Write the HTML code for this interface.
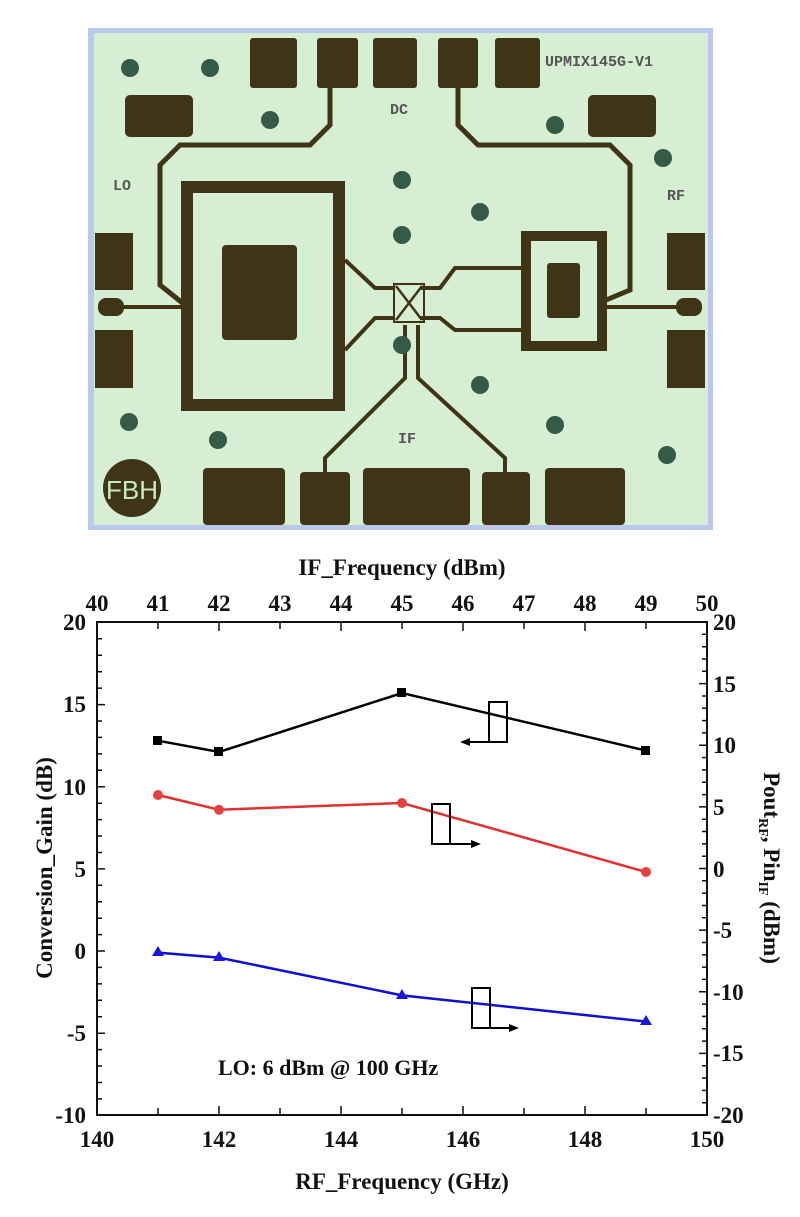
<!DOCTYPE html>
<html><head><meta charset="utf-8"><style>
html,body{margin:0;padding:0;background:#fff}
svg{display:block}
.t{font-family:"Liberation Serif",serif;font-weight:bold;font-size:23px;fill:#111}
.c{font-family:"Liberation Mono",monospace;font-weight:bold;font-size:15px;fill:#555}
</style></head><body>
<svg width="800" height="1217" viewBox="0 0 800 1217" xmlns="http://www.w3.org/2000/svg">
<rect width="800" height="1217" fill="#fff"/>
<!-- chip -->
<rect x="88" y="28" width="625" height="502" fill="#b9c8ec"/>
<rect x="94" y="33" width="614" height="492" fill="#d6efd2"/>
<g fill="#3f3516">
<rect x="250" y="38" width="47" height="50" rx="3"/>
<rect x="317" y="38" width="41" height="50" rx="3"/>
<rect x="373" y="38" width="44" height="50" rx="3"/>
<rect x="438" y="38" width="40" height="50" rx="3"/>
<rect x="495" y="38" width="45" height="50" rx="3"/>
<rect x="125" y="95" width="68" height="42" rx="5"/>
<rect x="588" y="95" width="68" height="42" rx="5"/>
<rect x="95" y="233" width="38" height="57"/>
<rect x="95" y="330" width="38" height="58"/>
<rect x="667" y="233" width="38" height="57"/>
<rect x="667" y="330" width="38" height="58"/>
<rect x="203" y="468" width="82" height="57" rx="4"/>
<rect x="300" y="472" width="50" height="53" rx="4"/>
<rect x="363" y="468" width="107" height="57" rx="4"/>
<rect x="482" y="472" width="48" height="53" rx="4"/>
<rect x="545" y="468" width="80" height="57" rx="4"/>
<rect x="222" y="245" width="75" height="95" rx="4"/>
<rect x="547" y="263" width="33" height="55" rx="3"/>
<circle cx="132" cy="488" r="29"/>
<rect x="98" y="298" width="26" height="18" rx="8"/>
<rect x="676" y="298" width="26" height="18" rx="8"/>
</g>
<g fill="none" stroke="#3f3516">
<rect x="187" y="187" width="152" height="218" stroke-width="12"/>
<rect x="526" y="236" width="76" height="110" stroke-width="10"/>
<path d="M330 88 V125 L310 145 H180 L160 165 V285 L185 305" stroke-width="5"/>
<path d="M458 88 V125 L478 145 H610 L630 165 V290 L606 300" stroke-width="5"/>
<path d="M124 307 H187 M606 307 H676" stroke-width="4"/>
<path d="M345 260 L375 288 H395 M345 350 L375 318 H395 M420 288 H440 L455 268 H526 M420 318 H440 L455 330 H526" stroke-width="4"/>
<path d="M405 325 V378 L325 458 V472 M418 325 V378 L505 458 V472" stroke-width="4"/>
<rect x="394" y="284" width="30" height="38" stroke-width="2"/>
<path d="M396 286 L422 320 M422 286 L396 320" stroke-width="2.5"/>
</g>
<g fill="#365a48">
<circle cx="130" cy="68" r="9"/><circle cx="210" cy="68" r="9"/><circle cx="270" cy="120" r="9"/>
<circle cx="402" cy="180" r="9"/><circle cx="402" cy="235" r="9"/><circle cx="480" cy="212" r="9"/>
<circle cx="402" cy="345" r="9"/><circle cx="480" cy="385" r="9"/><circle cx="555" cy="125" r="9"/>
<circle cx="663" cy="158" r="9"/><circle cx="555" cy="425" r="9"/><circle cx="667" cy="455" r="9"/>
<circle cx="129" cy="422" r="9"/><circle cx="218" cy="440" r="9"/>
</g>
<text x="545" y="66" class="c">UPMIX145G-V1</text>
<text x="390" y="114" class="c">DC</text>
<text x="113" y="190" class="c">LO</text>
<text x="667" y="200" class="c">RF</text>
<text x="398" y="443" class="c">IF</text>
<text x="132" y="499" text-anchor="middle" style="font-family:'Liberation Sans',sans-serif;font-size:26px;fill:#c8e8c8">FBH</text>
<!-- chart -->
<rect x="97" y="622" width="610" height="493" fill="none" stroke="#111" stroke-width="2"/>
<g stroke="#111" stroke-width="1.5">
<path d="M158 622v7M219 622v9M280 622v7M341 622v9M402 622v7M463 622v9M524 622v7M585 622v9M646 622v7
M158 1115v-7M219 1115v-9M280 1115v-7M341 1115v-9M402 1115v-7M463 1115v-9M524 1115v-7M585 1115v-9M646 1115v-7
M97 638.8h5M97 655.3h5M97 671.7h5M97 688.1h5M97 704.6h8M97 721h5M97 737.4h5M97 753.9h5M97 770.3h5M97 786.7h8
M97 803.2h5M97 819.6h5M97 836h5M97 852.5h5M97 868.9h8M97 885.3h5M97 901.8h5M97 918.2h5M97 934.6h5M97 951h8
M97 967.4h5M97 983.9h5M97 1000.3h5M97 1016.7h5M97 1033.2h8M97 1049.6h5M97 1066h5M97 1082.5h5M97 1098.9h5
M707 634.3h-5M707 646.7h-5M707 659h-5M707 671.3h-5M707 683.6h-8M707 696h-5M707 708.3h-5M707 720.6h-5M707 732.9h-5M707 745.3h-8
M707 757.6h-5M707 769.9h-5M707 782.2h-5M707 794.6h-5M707 806.9h-8M707 819.2h-5M707 831.5h-5M707 843.9h-5M707 856.2h-5M707 868.5h-8
M707 880.8h-5M707 893.2h-5M707 905.5h-5M707 917.8h-5M707 930.1h-8M707 942.5h-5M707 954.8h-5M707 967.1h-5M707 979.4h-5M707 991.8h-8
M707 1004.1h-5M707 1016.4h-5M707 1028.7h-5M707 1041.1h-5M707 1053.4h-8M707 1065.7h-5M707 1078h-5M707 1090.4h-5M707 1102.7h-5"/>
</g>
<g class="t" text-anchor="middle">
<text x="97" y="611">40</text><text x="158" y="611">41</text><text x="219" y="611">42</text><text x="280" y="611">43</text><text x="341" y="611">44</text><text x="402" y="611">45</text><text x="463" y="611">46</text><text x="524" y="611">47</text><text x="585" y="611">48</text><text x="646" y="611">49</text><text x="707" y="611">50</text>
<text x="97" y="1147">140</text><text x="219" y="1147">142</text><text x="341" y="1147">144</text><text x="463" y="1147">146</text><text x="585" y="1147">148</text><text x="707" y="1147">150</text>
<text x="402" y="575">IF_Frequency (dBm)</text>
<text x="402" y="1189">RF_Frequency (GHz)</text>
</g>
<g class="t" text-anchor="end">
<text x="86" y="630">20</text><text x="86" y="712">15</text><text x="86" y="795">10</text><text x="86" y="877">5</text><text x="86" y="959">0</text><text x="86" y="1041">-5</text><text x="86" y="1123">-10</text>
</g>
<g class="t">
<text x="713" y="630">20</text><text x="713" y="692">15</text><text x="713" y="753">10</text><text x="713" y="815">5</text><text x="713" y="877">0</text><text x="713" y="938">-5</text><text x="713" y="1000">-10</text><text x="713" y="1061">-15</text><text x="713" y="1123">-20</text>
<text x="218" y="1075" style="font-size:22px">LO: 6 dBm @ 100 GHz</text>
</g>
<text class="t" transform="translate(52,868) rotate(-90)" text-anchor="middle">Conversion_Gain (dB)</text>
<text class="t" transform="translate(764,868) rotate(90)" text-anchor="middle">Pout<tspan font-size="14" dy="5">RF</tspan><tspan dy="-5">, Pin</tspan><tspan font-size="14" dy="5">IF</tspan><tspan dy="-5"> (dBm)</tspan></text>
<!-- series -->
<polyline points="158,740.7 219,752 402,693 646,750.6" fill="none" stroke="#000" stroke-width="2.5"/>
<g fill="#000"><rect x="153" y="736" width="9" height="9"/><rect x="214" y="747" width="9" height="9"/><rect x="397" y="688" width="9" height="9"/><rect x="641" y="746" width="9" height="9"/></g>
<polyline points="158,795 219,809.7 402,803 646,872" fill="none" stroke="#e03030" stroke-width="2.5"/>
<g fill="#e84040"><circle cx="158" cy="795" r="5"/><circle cx="219" cy="809.7" r="5"/><circle cx="402" cy="803" r="5"/><circle cx="646" cy="872" r="5"/></g>
<polyline points="158,952.6 219,957.6 402,995.4 646,1021.6" fill="none" stroke="#1010d0" stroke-width="2.5"/>
<g fill="#1818e0"><path d="M158 946l6 10h-12z"/><path d="M219 951l6 10h-12z"/><path d="M402 989l6 10h-12z"/><path d="M646 1015l6 10h-12z"/></g>
<!-- annotations -->
<g fill="none" stroke="#000" stroke-width="2">
<rect x="489" y="702" width="18" height="40"/><path d="M489 742H466"/>
<rect x="432" y="804" width="18" height="40"/><path d="M450 844H474"/>
<rect x="472" y="988" width="18" height="40"/><path d="M490 1028H512"/>
</g>
<g fill="#000"><path d="M460 742l10-4v8z"/><path d="M481 844l-10-4v8z"/><path d="M519 1028l-10-4v8z"/></g>
</svg>
</body></html>
